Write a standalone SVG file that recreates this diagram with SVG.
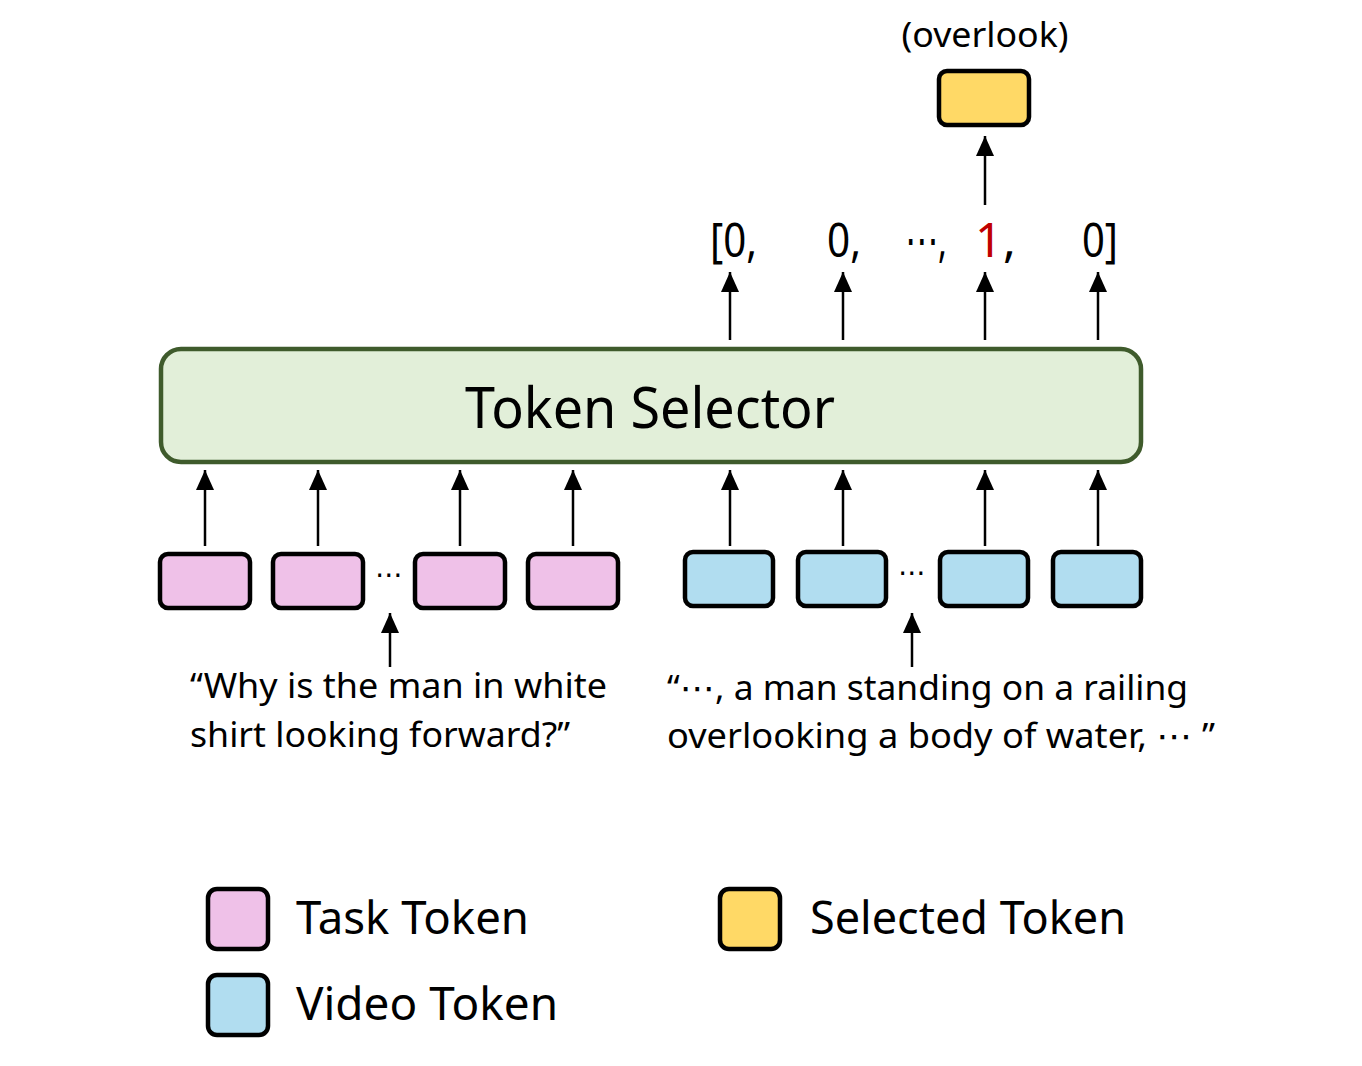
<svg xmlns="http://www.w3.org/2000/svg" width="1362" height="1066" viewBox="0 0 1362 1066">
<style>
text{font-family:"Noto Sans","DejaVu Sans",sans-serif;fill:#000}
.tok{stroke:#000;stroke-width:4.5}
.task{fill:#efc1e8}
.video{fill:#b1ddf0}
.sel{fill:#ffd966}
.arr{stroke:#000;stroke-width:2.5;fill:none;marker-end:url(#ah)}
.body{font-size:35px}
.num{font-size:48px}
.leg{font-size:46px}
</style>
<defs>
<marker id="ah" viewBox="0 0 20 18" refX="20" refY="9" markerWidth="20" markerHeight="18" markerUnits="userSpaceOnUse" orient="auto">
<path d="M0,0 L20,9 L0,18 Z" fill="#000"/>
</marker>
</defs>
<rect width="1362" height="1066" fill="#fff"/>

<g id="selector">
<rect x="161" y="349" width="980" height="113" rx="20" fill="#e2efd9" stroke="#3f5b2c" stroke-width="4.5"/>
<text x="650" y="428" font-size="56" text-anchor="middle" textLength="370" lengthAdjust="spacingAndGlyphs">Token Selector</text>
</g>

<g id="task-tokens">
<rect class="tok task" x="160" y="554" width="90" height="54" rx="8"/>
<rect class="tok task" x="273" y="554" width="90" height="54" rx="8"/>
<rect class="tok task" x="415" y="554" width="90" height="54" rx="8"/>
<rect class="tok task" x="528" y="554" width="90" height="54" rx="8"/>
<text x="389" y="584" font-size="28" text-anchor="middle">⋯</text>
</g>

<g id="video-tokens">
<rect class="tok video" x="685" y="552" width="88" height="54" rx="8"/>
<rect class="tok video" x="798" y="552" width="88" height="54" rx="8"/>
<rect class="tok video" x="940" y="552" width="88" height="54" rx="8"/>
<rect class="tok video" x="1053" y="552" width="88" height="54" rx="8"/>
<text x="912" y="582" font-size="28" text-anchor="middle">⋯</text>
</g>

<g id="selected-token">
<rect class="tok sel" x="939" y="71" width="90" height="54" rx="8"/>
<text x="985" y="47" font-size="35" text-anchor="middle" textLength="167" lengthAdjust="spacingAndGlyphs">(overlook)</text>
</g>

<g id="output-vector">
<text class="num" x="710" y="257" textLength="47" lengthAdjust="spacingAndGlyphs">[0,</text>
<text class="num" x="827" y="257" textLength="34" lengthAdjust="spacingAndGlyphs">0,</text>
<text class="num" x="905" y="257" textLength="42" lengthAdjust="spacingAndGlyphs">⋯,</text>
<text class="num" x="975" y="257" style="fill:#c00000">1</text>
<text class="num" x="1003" y="257">,</text>
<text class="num" x="1082" y="257" textLength="36" lengthAdjust="spacingAndGlyphs">0]</text>
</g>

<g id="task-text">
<text class="body" x="190" y="698" textLength="417" lengthAdjust="spacingAndGlyphs">“Why is the man in white</text>
<text class="body" x="190" y="747" textLength="380" lengthAdjust="spacingAndGlyphs">shirt looking forward?”</text>
</g>

<g id="video-text">
<text class="body" x="667" y="700" textLength="521" lengthAdjust="spacingAndGlyphs">“⋯, a man standing on a railing</text>
<text class="body" x="667" y="748" textLength="548" lengthAdjust="spacingAndGlyphs">overlooking a body of water, ⋯ ”</text>
</g>

<g id="legend">
<rect class="tok task" x="208" y="889" width="60" height="60" rx="9"/>
<text class="leg" x="296" y="934" textLength="233" lengthAdjust="spacingAndGlyphs">Task Token</text>
<rect class="tok video" x="208" y="975" width="60" height="60" rx="9"/>
<text class="leg" x="296" y="1020" textLength="262" lengthAdjust="spacingAndGlyphs">Video Token</text>
<rect class="tok sel" x="720" y="889" width="60" height="60" rx="9"/>
<text class="leg" x="810" y="934" textLength="316" lengthAdjust="spacingAndGlyphs">Selected Token</text>
</g>

<g id="connectors">
<line class="arr" x1="205" y1="546" x2="205" y2="470"/>
<line class="arr" x1="318" y1="546" x2="318" y2="470"/>
<line class="arr" x1="460" y1="546" x2="460" y2="470"/>
<line class="arr" x1="573" y1="546" x2="573" y2="470"/>
<line class="arr" x1="730" y1="546" x2="730" y2="470"/>
<line class="arr" x1="843" y1="546" x2="843" y2="470"/>
<line class="arr" x1="985" y1="546" x2="985" y2="470"/>
<line class="arr" x1="1098" y1="546" x2="1098" y2="470"/>
<line class="arr" x1="730" y1="340" x2="730" y2="272"/>
<line class="arr" x1="843" y1="340" x2="843" y2="272"/>
<line class="arr" x1="985" y1="340" x2="985" y2="272"/>
<line class="arr" x1="1098" y1="340" x2="1098" y2="272"/>
<line class="arr" x1="985" y1="205" x2="985" y2="136"/>
<line class="arr" x1="390" y1="667" x2="390" y2="613"/>
<line class="arr" x1="912" y1="667" x2="912" y2="613"/>
</g>
</svg>
